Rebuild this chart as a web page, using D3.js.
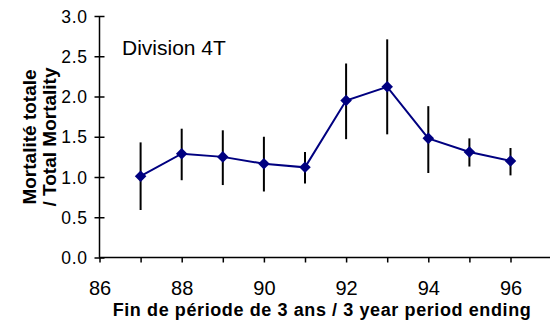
<!DOCTYPE html>
<html>
<head>
<meta charset="utf-8">
<script src="https://cdn.jsdelivr.net/npm/d3@7"></script>
<style>
  body { margin: 0; background: #fff; }
  svg { display: block; font-family: 'Liberation Sans', Arial, sans-serif; }
</style>
</head>
<body>
<div id="chart"></div>
<script>
const years = [87, 88, 89, 90, 91, 92, 93, 94, 95, 96];
const mortality = [1.01, 1.29, 1.25, 1.165, 1.12, 1.95, 2.12, 1.48, 1.31, 1.20];
const lower = [0.59, 0.96, 0.90, 0.82, 0.92, 1.47, 1.53, 1.05, 1.13, 1.02];
const upper = [1.43, 1.60, 1.58, 1.50, 1.31, 2.41, 2.71, 1.88, 1.48, 1.36];
const xTickLabels = [86, 88, 90, 92, 94, 96];
const yTickValues = [0, 0.5, 1, 1.5, 2, 2.5, 3];

const width = 550;
const height = 320;

const svg = d3.select('#chart')
  .append('svg')
  .attr('width', width)
  .attr('height', height);

const x = d3.scaleLinear().domain([86, 97]).range([99.5, 551.6]);
const y = d3.scaleLinear().domain([0, 3]).range([257.5, 16]);

const points = years.map((yr, i) => ({ yr, v: mortality[i], lo: lower[i], hi: upper[i] }));

// y axis, ticks cross the line
const yAxis = svg.append('g')
  .attr('transform', `translate(${x(86)},0)`)
  .call(d3.axisLeft(y).tickValues(yTickValues).tickSize(5).tickFormat(d3.format('.1f')));
yAxis.select('.domain').attr('d', `M0,${y(3)}V${y(0)}`).attr('stroke', '#000').attr('stroke-width', 1.5);
yAxis.selectAll('.tick line').attr('x1', -5).attr('x2', 5).attr('stroke', '#000').attr('stroke-width', 1.5);
yAxis.selectAll('.tick text')
  .attr('x', -12)
  .attr('dy', '0.35em')
  .style('font-size', '17.5px')
  .style('letter-spacing', '0.6px')
  .attr('fill', '#000');

// x axis: a tick every year, a label every two
const xAxis = svg.append('g')
  .attr('transform', `translate(0,${y(0)})`)
  .call(d3.axisBottom(x).tickValues(d3.range(86, 98)).tickSize(5)
    .tickFormat(d => xTickLabels.includes(d) ? d : ''));
xAxis.select('.domain').attr('d', `M${x(86)},0H${width}`).attr('stroke', '#000').attr('stroke-width', 1.5);
xAxis.selectAll('.tick line').attr('stroke', '#000').attr('stroke-width', 1.5);
xAxis.selectAll('.tick text')
  .attr('y', 37.5)
  .attr('dy', 0)
  .style('font-size', '20px')
  .attr('fill', '#000');

// error bars
svg.append('g')
  .selectAll('line')
  .data(points)
  .enter()
  .append('line')
  .attr('x1', d => x(d.yr))
  .attr('x2', d => x(d.yr))
  .attr('y1', d => y(d.lo))
  .attr('y2', d => y(d.hi))
  .attr('stroke', '#000')
  .attr('stroke-width', 2);

// series line
const line = d3.line().x(d => x(d.yr)).y(d => y(d.v));
svg.append('path')
  .datum(points)
  .attr('d', line)
  .attr('fill', 'none')
  .attr('stroke', '#000080')
  .attr('stroke-width', 2);

// diamond markers
svg.append('g')
  .selectAll('path')
  .data(points)
  .enter()
  .append('path')
  .attr('d', d3.symbol().type(d3.symbolDiamond2).size(85))
  .attr('transform', d => `translate(${x(d.yr)},${y(d.v)})`)
  .attr('fill', '#000080');

svg.append('text')
  .attr('x', 122)
  .attr('y', 55)
  .text('Division 4T')
  .style('font-size', '21px')
  .attr('fill', '#000');

// axis titles
const yTitle = svg.append('text')
  .attr('transform', 'translate(0,137) rotate(-90)')
  .attr('text-anchor', 'middle')
  .style('font-size', '19px')
  .style('font-weight', 'bold')
  .attr('fill', '#000');
yTitle.append('tspan').attr('x', 0).attr('y', 36).text('Mortalité totale');
yTitle.append('tspan').attr('x', 0).attr('y', 56).text('/ Total Mortality');

svg.append('text')
  .attr('x', 322)
  .attr('y', 316)
  .attr('text-anchor', 'middle')
  .text('Fin de période de 3 ans / 3 year period ending')
  .style('font-size', '18px')
  .style('font-weight', 'bold')
  .style('letter-spacing', '0.6px')
  .attr('fill', '#000');
</script>
</body>
</html>
